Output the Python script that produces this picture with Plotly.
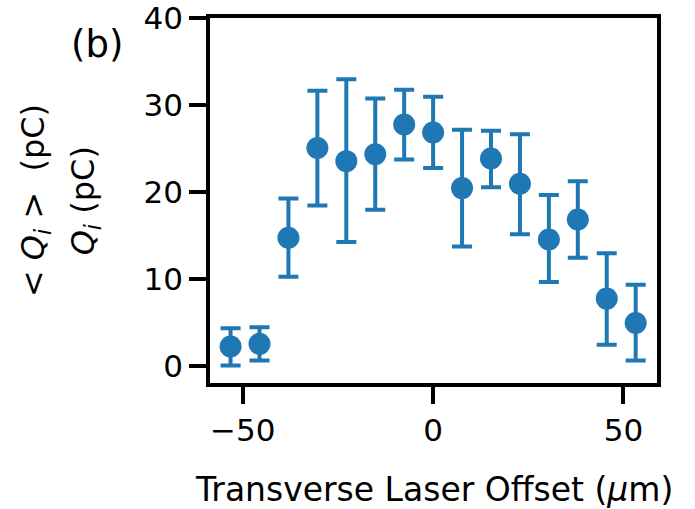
import plotly.graph_objects as go

offset_um = [-53.2, -45.6, -38.0, -30.4, -22.8, -15.2, -7.6, 0.0, 7.6, 15.2, 22.8, 30.4, 38.0, 45.6, 53.2]
charge_pc = [2.3, 2.6, 14.8, 25.1, 23.6, 24.4, 27.8, 26.9, 20.5, 23.9, 21.0, 14.6, 16.9, 7.8, 5.0]
err_upper = [4.4, 4.5, 19.3, 31.7, 33.0, 30.8, 31.8, 31.0, 27.2, 27.1, 26.7, 19.7, 21.3, 13.0, 9.4]
err_lower = [0.1, 0.7, 10.3, 18.5, 14.3, 18.0, 23.8, 22.8, 13.8, 20.6, 15.2, 9.7, 12.5, 2.5, 0.7]

x_ticks = [-50, 0, 50]
y_ticks = [0, 10, 20, 30, 40]

plus = [u - c for u, c in zip(err_upper, charge_pc)]
minus = [c - l for c, l in zip(charge_pc, err_lower)]

blue = "#1f77b4"
FONT = "DejaVu Sans"
FS = 31

fig = go.Figure()
fig.add_trace(go.Scatter(
    x=offset_um, y=charge_pc, mode="markers",
    marker=dict(size=22, color=blue),
    error_y=dict(type="data", symmetric=False, array=plus, arrayminus=minus,
                 color=blue, thickness=4, width=10),
    showlegend=False,
))

axis_common = dict(
    showline=True, linecolor="black", linewidth=3.5, mirror=True,
    ticks="outside", ticklen=17, tickwidth=3.5, tickcolor="black",
    showgrid=False, zeroline=False, automargin=False,
    tickfont=dict(family=FONT, size=FS, color="black"),
    ticklabeloverflow="allow",
)

fig.update_layout(
    width=695, height=509,
    margin=dict(l=210, r=38, t=18, b=126),
    plot_bgcolor="white", paper_bgcolor="white",
    font=dict(family=FONT, size=FS, color="black"),
    xaxis=dict(range=[-58.6, 58.8], tickvals=x_ticks,
               ticktext=["\u221250", "0", "50"], **axis_common),
    yaxis=dict(range=[-1.9, 40.05], tickvals=y_ticks, **axis_common),
    annotations=[
        dict(text="&lt; <i>Q<sub>i</sub></i> &gt;  (pC)", textangle=-90,
             x=-0.392, y=0.5, xref="paper", yref="paper",
             xanchor="center", yanchor="middle", showarrow=False,
             font=dict(family=FONT, size=32, color="black")),
        dict(text="<i>Q<sub>i</sub></i> (pC)", textangle=-90,
             x=-0.280, y=0.5, xref="paper", yref="paper",
             xanchor="center", yanchor="middle", showarrow=False,
             font=dict(family=FONT, size=32, color="black")),
        dict(text="Transverse Laser Offset (<i>\u03bc</i>m)",
             x=0.5, y=-0.293, xref="paper", yref="paper",
             xanchor="center", yanchor="middle", showarrow=False,
             font=dict(family=FONT, size=33, color="black")),
        dict(text="(b)", x=(97 - 210) / 447, y=(383 - 44) / 365,
             xref="paper", yref="paper", xanchor="center", yanchor="middle",
             showarrow=False, font=dict(family=FONT, size=37, color="black")),
    ],
)

fig.write_html("out.html")
